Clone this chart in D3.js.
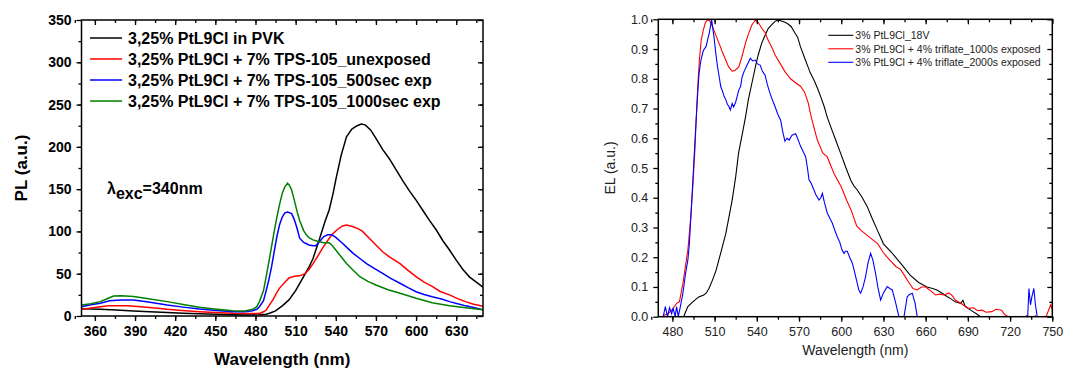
<!DOCTYPE html>
<html>
<head>
<meta charset="utf-8">
<script src="https://cdn.jsdelivr.net/npm/d3@7"></script>
<style>
  body { margin: 0; background: #fff; }
  svg { display: block; font-family: "Liberation Sans", Arial, sans-serif; }
</style>
</head>
<body>
<svg id="chart" width="1069" height="369"></svg>
<script>
// ---- PL spectra (left panel) ----
const plBlackWl = [350,364,376,389,401,414,426,438,451,463,476,483,488,491,495,500,505,510,515,520,523,528,532,535,538,540,544,548,552,556,559,562,566,570,575,580,585,590,595,600,605,610,615,620,625,630,635,640,645,650];
const plBlack = [8.5,7.9,7.2,5.9,5,4,3.3,2.7,2,1.6,1.2,1.5,2,3.5,6,12,19,30,44,58,68,92,112,125,145,161,190,212,221,225,227,226,220,210,197,186,173,160,148,137,125,113,102,89,78,66,55,46,40,34];

const plRedWl = [350,360,370,376,385,394,405,414,425,438,450,463,475,483,486,488,490,493,496,498,502,505,509,513,517,520,523,527,530,533,537,541,545,548,551,553,557,560,565,570,575,580,588,594,600,606,612,618,625,631,637,643,650];
const plRed = [8,10,12,12.2,12,11,9.5,7.9,6.5,5,4,3.2,3,3,5,7,12,19,28,33,40,45,47,47.5,50,55,62,72,80,87,96,102,106.5,107.5,106.5,105.5,103,100,92,84,76,70,62,54,46.5,40,35,29,25,20.5,17,14,11.5];

const plBlueWl = [350,356,364,371,379,389,400,414,426,438,451,463,472,478,481,483,486,488,490,492,494,496,498,500,502,504,507,509,511,513,516,520,523,525,528,531,534,537,540,545,549,553,558,563,569,575,581,588,594,600,606,612,619,625,631,637,643,650];
const plBlue = [11,13,15,18,19,19,16.5,13,10.5,8.3,6.5,5,5,6.3,8,11,18,30,43,58,76,94,108,117,122,123,121,114,104,92,87,84,83,83,88,94,96,96,93,86,80,74,68,62,56,50.5,44.5,38.7,33.5,28.7,25.5,22.8,20,17,14.5,12,10,7.5];

const plGreenWl = [350,357,364,370,374,380,389,400,414,426,438,451,463,472,478,481,483,486,488,490,492,494,496,498,500,502,504,505.5,507,509,511,513,516,518,520,523,527,531,535,537,540,544,548,553,558,564,570,579,588,600,612,625,637,650];
const plGreen = [13,14.5,17,21,23.6,24,23,20.5,17,13.5,10.3,8,6.3,6,7.9,11,17,30,46.5,64,82,100,117,132,145,153,157,154,149,137,124,113,101,96,92.5,90,88,86.7,86.5,84,78,70,62,54,46.5,41,36.7,31,26.8,20.9,15.7,12.2,9.8,7.5];

const plNames = ["3,25% PtL9Cl in PVK", "3,25% PtL9Cl + 7% TPS-105_unexposed", "3,25% PtL9Cl + 7% TPS-105_500sec exp", "3,25% PtL9Cl + 7% TPS-105_1000sec exp"];
const plXTicks = [360,390,420,450,480,510,540,570,600,630];
const plYTicks = [0,50,100,150,200,250,300,350];

// ---- EL spectra (right panel) ----
const elBlackWl = [470,486,488,491,494.5,497,499,502,504,506,508.5,511,513,515.5,518,520,522.5,525,527,529.5,532,534,536.5,539,541,543.5,546,548,550.5,553,555,557,560,562,564.5,567,569,571,574,576,578,580.6,583,585.4,588,590,592.5,596,599.6,603,606.7,609,611.4,615,618.5,622,625.6,630,636,643,649,655,661,665,668,672,675.4,678,681,684.8,686.5,688,692,696,699,705,750];
const elBlack = [-0.05,-0.02,0,0.034,0.05,0.06,0.067,0.072,0.079,0.095,0.123,0.155,0.19,0.235,0.28,0.33,0.392,0.47,0.549,0.61,0.672,0.73,0.785,0.84,0.88,0.92,0.947,0.968,0.981,0.993,0.998,0.995,0.99,0.985,0.975,0.955,0.94,0.908,0.87,0.845,0.82,0.796,0.77,0.74,0.705,0.672,0.639,0.595,0.549,0.505,0.46,0.44,0.426,0.4,0.37,0.33,0.292,0.245,0.215,0.175,0.14,0.115,0.1,0.095,0.09,0.078,0.067,0.06,0.05,0.045,0.055,0.035,0.022,0.01,0,-0.02,-0.02];

const elRedWl = [470,472,474,477,480,483,485,487.5,489,491,493,494.5,496,497,498,499.2,500.5,502,503.5,505,506.5,508.5,511,513.2,515.5,517.9,520,522.5,524.5,527.2,529.5,531.9,534,536.5,538.9,541,543.5,546,548,550.5,553,556,560,564,568,571,574,576.5,578.5,581,583,587,590,595,600,604,607,611,614,618,622,626,630,634.5,639,642,645,648,651,654,657,660,664,667,670,673,676.5,679,681,685,688,690.5,694,697,700,703,707,710,714,716,718.5,722,726,728,732,735,738,741,744,746,748.8,750];
const elRed = [-0.05,-0.01,0.005,0.01,0.025,0.045,0.05,0.112,0.16,0.224,0.33,0.437,0.56,0.672,0.77,0.863,0.93,0.964,0.99,0.998,0.995,0.975,0.945,0.919,0.89,0.863,0.84,0.826,0.828,0.84,0.875,0.919,0.95,0.981,0.997,0.99,0.97,0.955,0.93,0.908,0.88,0.856,0.824,0.8,0.785,0.775,0.755,0.72,0.675,0.63,0.594,0.55,0.538,0.48,0.437,0.39,0.359,0.305,0.29,0.275,0.26,0.245,0.215,0.19,0.168,0.16,0.138,0.115,0.095,0.09,0.1,0.1,0.085,0.073,0.076,0.073,0.08,0.07,0.056,0.045,0.035,0.028,0.03,0.02,0.022,0.015,0.017,0.025,0.022,0.008,0,-0.005,0,-0.01,0.004,-0.01,0.003,-0.01,-0.01,0.005,0.04,0.025];

const elBlueWl = [470,473.5,475,476.5,478,479.5,480.5,482,483,484.2,485.5,487.5,489.4,491,492,493.3,494.5,495.7,497,498,499,500.3,502,503.9,505,506.2,507.9,509,509.7,511,512.1,513.5,514.4,515.5,516.8,518,519,520.3,521.2,522.5,523.5,524.9,526,527.2,528.5,529.6,531,533.1,534.5,535.4,537,538.9,540.5,542.4,544,545.9,547.5,549.4,551,553,555,557,558.5,560,561.5,563,565,567.6,569,571.2,572.5,574.7,576,577.1,578.5,580.6,582,584.2,585.5,586.6,588,590.1,592,593.7,595.5,597.2,599,600.5,602,603,604.3,606,607.9,609.5,611.4,612.5,613.8,615.5,617.3,619,620.9,622.5,624.4,626,628,630,632.7,634.5,636.3,638.5,641,643,644.6,646.9,648.5,650.5,652.5,654,656,730,732.5,733.4,734.5,735.5,736.9,738,739.3,740,750];
const elBlue = [-0.1,0,0.034,0,0.03,0.01,0.03,0,0.034,0,0.03,0.079,0.146,0.19,0.24,0.348,0.45,0.56,0.67,0.751,0.82,0.863,0.895,0.908,0.93,0.953,1.0,0.96,0.936,0.88,0.84,0.8,0.773,0.76,0.74,0.73,0.715,0.706,0.695,0.717,0.705,0.72,0.74,0.762,0.775,0.807,0.825,0.846,0.86,0.869,0.86,0.863,0.85,0.846,0.825,0.812,0.78,0.751,0.73,0.706,0.68,0.66,0.62,0.59,0.6,0.594,0.61,0.615,0.6,0.572,0.56,0.538,0.5,0.46,0.45,0.426,0.41,0.392,0.4,0.415,0.385,0.348,0.33,0.314,0.29,0.269,0.25,0.225,0.213,0.22,0.22,0.2,0.18,0.15,0.112,0.09,0.079,0.1,0.135,0.18,0.213,0.19,0.146,0.1,0.056,0.08,0.101,0.095,0.09,0.05,0,-0.01,0,0.067,0.075,0.079,0.045,0,-0.05,-0.05,0,0.095,0.04,0.067,0.095,0.04,0,-0.05,-0.05];

const elNames = ["3% PtL9Cl_18V", "3% PtL9Cl + 4% triflate_1000s exposed", "3% PtL9Cl + 4% triflate_2000s exposed"];
const elXTicks = [480,510,540,570,600,630,660,690,720,750];
const elYTicks = [0,0.1,0.2,0.3,0.4,0.5,0.6,0.7,0.8,0.9,1.0];

const svg = d3.select("#chart");

// draws the 4-sided frame: outward ticks bottom/left, inward ticks top/right
function drawFrame(g, x, y, width, height, xMajor, xMinor, yMajor, yMinor, yFmt, fontSize, fontWeight, fill) {
  g.append("g").attr("transform", "translate(0," + height + ")")
    .call(d3.axisBottom(x).tickValues(xMinor).tickSize(3).tickFormat("").tickSizeOuter(0));
  g.append("g").attr("class", "lab").attr("transform", "translate(0," + height + ")")
    .call(d3.axisBottom(x).tickValues(xMajor).tickSize(5).tickPadding(5).tickSizeOuter(0));
  g.append("g").call(d3.axisTop(x).tickValues(xMinor).tickSize(-3).tickFormat("").tickSizeOuter(0));
  g.append("g").call(d3.axisTop(x).tickValues(xMajor).tickSize(-5).tickFormat("").tickSizeOuter(0));

  g.append("g")
    .call(d3.axisLeft(y).tickValues(yMinor).tickSize(3).tickFormat("").tickSizeOuter(0));
  g.append("g").attr("class", "lab")
    .call(d3.axisLeft(y).tickValues(yMajor).tickSize(5).tickPadding(5).tickFormat(yFmt).tickSizeOuter(0));
  g.append("g").attr("transform", "translate(" + width + ",0)")
    .call(d3.axisRight(y).tickValues(yMinor).tickSize(-3).tickFormat("").tickSizeOuter(0));
  g.append("g").attr("transform", "translate(" + width + ",0)")
    .call(d3.axisRight(y).tickValues(yMajor).tickSize(-5).tickFormat("").tickSizeOuter(0));

  g.selectAll(".domain").remove();
  g.selectAll(".tick line").attr("stroke", "#000").attr("stroke-width", 1.3);
  g.selectAll(".lab text")
    .style("font-family", "'Liberation Sans', Arial, sans-serif")
    .style("font-size", fontSize + "px")
    .style("font-weight", fontWeight)
    .attr("fill", fill);

  g.append("rect")
    .attr("width", width).attr("height", height)
    .attr("fill", "none").attr("stroke", "#000").attr("stroke-width", 1.5);
}

// ================= left: PL =================
{
  const left = 81.5, top = 20, width = 401.5, height = 296;
  const g = svg.append("g").attr("transform", "translate(" + left + "," + top + ")");

  const x = d3.scaleLinear().domain([350, 650]).range([0, width]);
  const y = d3.scaleLinear().domain([0, 350]).range([height, 0]);

  g.append("clipPath").attr("id", "clipPL")
    .append("rect").attr("width", width).attr("height", height);

  const series = [
    {wl: plBlackWl, v: plBlack, color: "#000000"},
    {wl: plRedWl, v: plRed, color: "#ff0000"},
    {wl: plBlueWl, v: plBlue, color: "#0000ff"},
    {wl: plGreenWl, v: plGreen, color: "#008000"}
  ];
  const line = d3.line().x(d => x(d[0])).y(d => y(d[1]));

  g.append("g").attr("clip-path", "url(#clipPL)")
    .selectAll("path")
    .data(series)
    .enter()
    .append("path")
    .attr("d", d => line(d3.zip(d.wl, d.v)))
    .attr("fill", "none")
    .attr("stroke", d => d.color)
    .attr("stroke-width", 1.5);

  drawFrame(g, x, y, width, height,
    plXTicks, d3.range(345, 651, 15), plYTicks, d3.range(25, 350, 25),
    d3.format("d"), 14, "bold", "#000");

  // legend
  const leg = g.append("g");
  series.forEach(function(s, i) {
    const ly = 18 + i * 21;
    leg.append("line")
      .attr("x1", 8.5).attr("x2", 40.5).attr("y1", ly).attr("y2", ly)
      .attr("stroke", s.color).attr("stroke-width", 1.5);
    leg.append("text")
      .attr("x", 46.5).attr("y", ly).attr("dy", "0.36em")
      .style("font-size", "16px").style("font-weight", "bold")
      .text(plNames[i]);
  });

  // excitation note
  const note = g.append("text")
    .attr("x", 25.5).attr("y", 174)
    .style("font-size", "16px").style("font-weight", "bold");
  note.append("tspan").text("λ");
  note.append("tspan").attr("dy", 5).text("exc");
  note.append("tspan").attr("dy", -5).text("=340nm");

  // axis titles
  g.append("text")
    .attr("transform", "translate(" + (-54.5) + "," + (height / 2) + ")rotate(-90)")
    .style("text-anchor", "middle").style("font-size", "17px").style("font-weight", "bold")
    .text("PL (a.u.)");
  g.append("text")
    .attr("x", width / 2).attr("y", height + 49)
    .style("text-anchor", "middle").style("font-size", "17px").style("font-weight", "bold")
    .text("Wavelength (nm)");
}

// ================= right: EL =================
{
  const left = 658.3, top = 19.3, width = 394, height = 297.4;
  const g = svg.append("g").attr("transform", "translate(" + left + "," + top + ")");

  const x = d3.scaleLinear().domain([470, 750]).range([0, width]);
  const y = d3.scaleLinear().domain([0, 1]).range([height, 0]);

  g.append("clipPath").attr("id", "clipEL")
    .append("rect").attr("width", width).attr("height", height);

  const series = [
    {wl: elBlackWl, v: elBlack, color: "#000000"},
    {wl: elRedWl, v: elRed, color: "#ff0000"},
    {wl: elBlueWl, v: elBlue, color: "#0000ff"}
  ];
  const line = d3.line().x(d => x(d[0])).y(d => y(d[1]));

  g.append("g").attr("clip-path", "url(#clipEL)")
    .selectAll("path")
    .data(series)
    .enter()
    .append("path")
    .attr("d", d => line(d3.zip(d.wl, d.v)))
    .attr("fill", "none")
    .attr("stroke", d => d.color)
    .attr("stroke-width", 1.1);

  drawFrame(g, x, y, width, height,
    elXTicks, d3.range(465, 751, 15), elYTicks, d3.range(0.05, 1, 0.1),
    d3.format(".1f"), 12.5, "normal", "#222");

  // legend
  const leg = g.append("g");
  series.forEach(function(s, i) {
    const ly = 16 + i * 13.5;
    leg.append("line")
      .attr("x1", 170).attr("x2", 195).attr("y1", ly).attr("y2", ly)
      .attr("stroke", s.color).attr("stroke-width", 1.1);
    leg.append("text")
      .attr("x", 197).attr("y", ly).attr("dy", "0.36em")
      .style("font-size", "10.5px").attr("fill", "#222")
      .text(elNames[i]);
  });

  // axis titles
  g.append("text")
    .attr("transform", "translate(" + (-43.5) + "," + (height / 2) + ")rotate(-90)")
    .style("text-anchor", "middle").style("font-size", "14px").attr("fill", "#222")
    .text("EL (a.u.)");
  g.append("text")
    .attr("x", width / 2).attr("y", height + 38)
    .style("text-anchor", "middle").style("font-size", "14px").attr("fill", "#222")
    .text("Wavelength (nm)");
}
</script>
</body>
</html>
